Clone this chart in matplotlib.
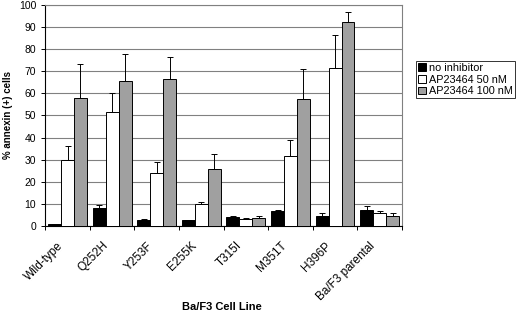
import numpy as np
import matplotlib.pyplot as plt
import matplotlib.transforms as mtransforms

plt.rcParams['font.family'] = ['Liberation Sans', 'DejaVu Sans']

cell_lines = ['Wild-type', 'Q252H', 'Y253F', 'E255K', 'T315I', 'M351T', 'H396P', 'Ba/F3 parental']
series = ['no inhibitor', 'AP23464 50 nM', 'AP23464 100 nM']

no_inhib = [1.0, 8.0, 2.8, 2.7, 3.9, 6.8, 4.5, 7.1]
no_inhib_err = [0.0, 1.5, 0.4, 0.0, 0.6, 0.3, 1.5, 1.9]
nm50 = [30.0, 51.5, 24.0, 10.0, 3.2, 31.5, 71.3, 5.7]
nm50_err = [6.0, 8.5, 5.0, 1.0, 0.4, 7.5, 15.0, 1.2]
nm100 = [58.0, 65.5, 66.3, 25.6, 3.5, 57.5, 92.3, 4.5]
nm100_err = [15.5, 12.5, 10.2, 6.8, 1.0, 13.4, 4.5, 1.2]

colors = ['black', 'white', '#a0a0a0']

fig = plt.figure(figsize=(5.2, 3.12), dpi=100)
ax = fig.add_axes([0.087, 0.276, 0.686, 0.708])

x = np.arange(len(cell_lines))
w = 0.29
for i, (vals, errs) in enumerate([(no_inhib, no_inhib_err), (nm50, nm50_err), (nm100, nm100_err)]):
    ax.bar(x + (i - 1) * w, vals, w, color=colors[i], edgecolor='black', linewidth=0.7,
           yerr=[np.zeros(len(errs)), errs], error_kw=dict(ecolor='black', elinewidth=0.7, capsize=2, capthick=0.7),
           label=series[i], zorder=3)

ax.set_xlim(-0.5, len(cell_lines) - 0.5)
ax.set_ylim(0, 100)
ax.set_yticks(range(0, 101, 10))
ax.yaxis.grid(True, color='#808080', linewidth=0.8, zorder=0)
ax.set_xticks(x)
ax.set_xticklabels(cell_lines, rotation=45, ha='right', va='center', rotation_mode='anchor', fontsize=8.5)
ax.tick_params(axis='x', length=0, pad=13)
shift = mtransforms.ScaledTranslation(-6 / 100, 0, fig.dpi_scale_trans)
for lbl in ax.get_xticklabels():
    lbl.set_transform(lbl.get_transform() + shift)
ax.set_xticks(np.arange(len(cell_lines) + 1) - 0.5, minor=True)
ax.tick_params(axis='x', which='minor', length=3, width=0.7)
ax.tick_params(axis='y', labelsize=7.5, length=3, width=0.7)

for s in ['top', 'right']:
    ax.spines[s].set_color('#808080')
    ax.spines[s].set_linewidth(0.8)
for s in ['left', 'bottom']:
    ax.spines[s].set_color('black')
    ax.spines[s].set_linewidth(0.8)

ax.set_ylabel('% annexin (+) cells', fontsize=7, fontweight='bold')
ax.set_xlabel('Ba/F3 Cell Line', fontsize=8, fontweight='bold', va='center')
ax.xaxis.set_label_coords(0.496, -0.367)

leg = fig.legend(loc='upper left', bbox_to_anchor=(0.8, 0.805), fontsize=7.8,
                 frameon=True, fancybox=False, edgecolor='black', handlelength=0.7,
                 handleheight=0.7, handletextpad=0.3, borderpad=0.2, labelspacing=0.15,
                 borderaxespad=0)
leg.get_frame().set_linewidth(0.7)

plt.savefig('out.png', dpi=100)
